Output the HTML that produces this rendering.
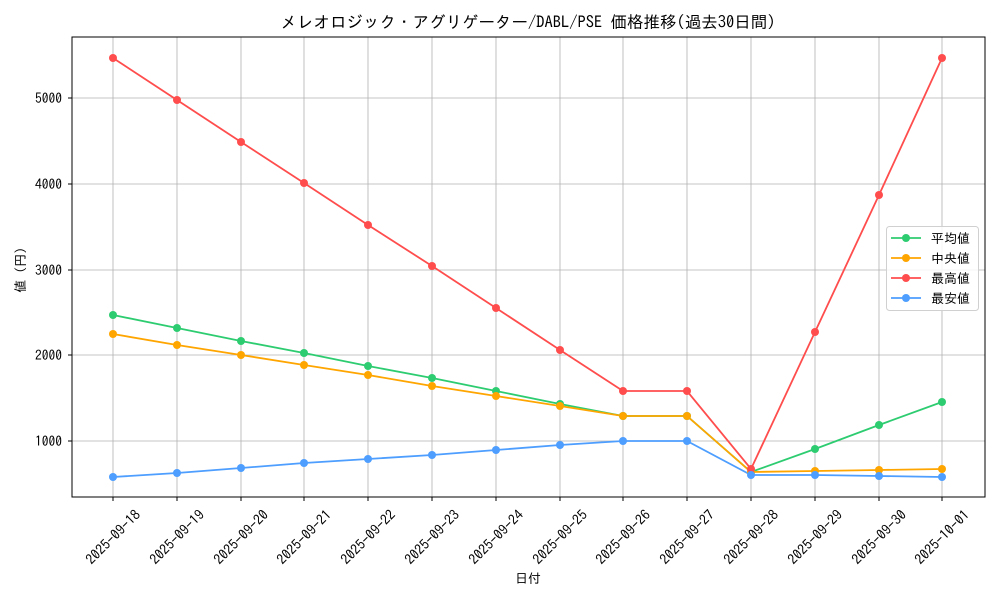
<!DOCTYPE html>
<html><head><meta charset="utf-8"><style>
body{margin:0;background:#fff;}
svg{display:block;font-family:"IPAGothic","Noto Sans CJK JP",sans-serif;}
</style></head><body>
<svg width="1000" height="600" viewBox="0 0 1000 600" xmlns="http://www.w3.org/2000/svg">
<rect width="1000" height="600" fill="#fff"/>
<g stroke="#b0b0b0" stroke-width="0.8">
<line x1="113" y1="37" x2="113" y2="497"/><line x1="177" y1="37" x2="177" y2="497"/><line x1="241" y1="37" x2="241" y2="497"/><line x1="304" y1="37" x2="304" y2="497"/><line x1="368" y1="37" x2="368" y2="497"/><line x1="432" y1="37" x2="432" y2="497"/><line x1="496" y1="37" x2="496" y2="497"/><line x1="560" y1="37" x2="560" y2="497"/><line x1="623" y1="37" x2="623" y2="497"/><line x1="687" y1="37" x2="687" y2="497"/><line x1="751" y1="37" x2="751" y2="497"/><line x1="815" y1="37" x2="815" y2="497"/><line x1="879" y1="37" x2="879" y2="497"/><line x1="942" y1="37" x2="942" y2="497"/>
<line x1="72" y1="98" x2="985" y2="98"/><line x1="72" y1="184" x2="985" y2="184"/><line x1="72" y1="270" x2="985" y2="270"/><line x1="72" y1="355" x2="985" y2="355"/><line x1="72" y1="441" x2="985" y2="441"/>
</g>
<rect x="72" y="37" width="913" height="460" fill="none" stroke="#000" stroke-width="1"/>
<g stroke="#000" stroke-width="1">
<line x1="113" y1="497" x2="113" y2="501"/><line x1="177" y1="497" x2="177" y2="501"/><line x1="241" y1="497" x2="241" y2="501"/><line x1="304" y1="497" x2="304" y2="501"/><line x1="368" y1="497" x2="368" y2="501"/><line x1="432" y1="497" x2="432" y2="501"/><line x1="496" y1="497" x2="496" y2="501"/><line x1="560" y1="497" x2="560" y2="501"/><line x1="623" y1="497" x2="623" y2="501"/><line x1="687" y1="497" x2="687" y2="501"/><line x1="751" y1="497" x2="751" y2="501"/><line x1="815" y1="497" x2="815" y2="501"/><line x1="879" y1="497" x2="879" y2="501"/><line x1="942" y1="497" x2="942" y2="501"/>
<line x1="68" y1="98" x2="72" y2="98"/><line x1="68" y1="184" x2="72" y2="184"/><line x1="68" y1="270" x2="72" y2="270"/><line x1="68" y1="355" x2="72" y2="355"/><line x1="68" y1="441" x2="72" y2="441"/>
</g>
<g font-size="13.5" text-anchor="end" fill="#000">
<text x="62" y="103">5000</text><text x="62" y="189">4000</text><text x="62" y="275">3000</text><text x="62" y="360">2000</text><text x="62" y="446">1000</text>
</g>
<g font-size="14" text-anchor="middle" dominant-baseline="central" fill="#000">
<text transform="translate(113,537) rotate(-45)">2025-09-18</text>
<text transform="translate(177,537) rotate(-45)">2025-09-19</text>
<text transform="translate(241,537) rotate(-45)">2025-09-20</text>
<text transform="translate(304,537) rotate(-45)">2025-09-21</text>
<text transform="translate(368,537) rotate(-45)">2025-09-22</text>
<text transform="translate(432,537) rotate(-45)">2025-09-23</text>
<text transform="translate(496,537) rotate(-45)">2025-09-24</text>
<text transform="translate(560,537) rotate(-45)">2025-09-25</text>
<text transform="translate(623,537) rotate(-45)">2025-09-26</text>
<text transform="translate(687,537) rotate(-45)">2025-09-27</text>
<text transform="translate(751,537) rotate(-45)">2025-09-28</text>
<text transform="translate(815,537) rotate(-45)">2025-09-29</text>
<text transform="translate(879,537) rotate(-45)">2025-09-30</text>
<text transform="translate(942,537) rotate(-45)">2025-10-01</text>
</g>
<text x="528" y="583" font-size="13" text-anchor="middle">日付</text>
<text transform="translate(25,270) rotate(-90)" font-size="13" text-anchor="middle">値 (円)</text>
<text x="528" y="28" font-size="16.5" text-anchor="middle">メレオロジック・アグリゲーター/DABL/PSE 価格推移(過去30日間)</text>

<g fill="none" stroke-width="1.8">
<polyline stroke="#2ecc71" points="113,315 177,328 241,341 304,353 368,366 432,378 496,391 560,404 623,416 687,416 751,472 815,449 879,425 942,402"/>
<polyline stroke="#ffa500" points="113,334 177,345 241,355 304,365 368,375 432,386 496,396 560,406 623,416 687,416 751,472 815,471 879,470 942,469"/>
<polyline stroke="#ff4d4d" points="113,58 177,100 241,142 304,183 368,225 432,266 496,308 560,350 623,391 687,391 751,469 815,332 879,195 942,58"/>
<polyline stroke="#4d9eff" points="113,477 177,473 241,468 304,463 368,459 432,455 496,450 560,445 623,441 687,441 751,475 815,475 879,476 942,477"/>
</g>
<g fill="#2ecc71"><circle cx="113" cy="315" r="4"/><circle cx="177" cy="328" r="4"/><circle cx="241" cy="341" r="4"/><circle cx="304" cy="353" r="4"/><circle cx="368" cy="366" r="4"/><circle cx="432" cy="378" r="4"/><circle cx="496" cy="391" r="4"/><circle cx="560" cy="404" r="4"/><circle cx="623" cy="416" r="4"/><circle cx="687" cy="416" r="4"/><circle cx="751" cy="472" r="4"/><circle cx="815" cy="449" r="4"/><circle cx="879" cy="425" r="4"/><circle cx="942" cy="402" r="4"/></g>
<g fill="#ffa500"><circle cx="113" cy="334" r="4"/><circle cx="177" cy="345" r="4"/><circle cx="241" cy="355" r="4"/><circle cx="304" cy="365" r="4"/><circle cx="368" cy="375" r="4"/><circle cx="432" cy="386" r="4"/><circle cx="496" cy="396" r="4"/><circle cx="560" cy="406" r="4"/><circle cx="623" cy="416" r="4"/><circle cx="687" cy="416" r="4"/><circle cx="751" cy="472" r="4"/><circle cx="815" cy="471" r="4"/><circle cx="879" cy="470" r="4"/><circle cx="942" cy="469" r="4"/></g>
<g fill="#ff4d4d"><circle cx="113" cy="58" r="4"/><circle cx="177" cy="100" r="4"/><circle cx="241" cy="142" r="4"/><circle cx="304" cy="183" r="4"/><circle cx="368" cy="225" r="4"/><circle cx="432" cy="266" r="4"/><circle cx="496" cy="308" r="4"/><circle cx="560" cy="350" r="4"/><circle cx="623" cy="391" r="4"/><circle cx="687" cy="391" r="4"/><circle cx="751" cy="469" r="4"/><circle cx="815" cy="332" r="4"/><circle cx="879" cy="195" r="4"/><circle cx="942" cy="58" r="4"/></g>
<g fill="#4d9eff"><circle cx="113" cy="477" r="4"/><circle cx="177" cy="473" r="4"/><circle cx="241" cy="468" r="4"/><circle cx="304" cy="463" r="4"/><circle cx="368" cy="459" r="4"/><circle cx="432" cy="455" r="4"/><circle cx="496" cy="450" r="4"/><circle cx="560" cy="445" r="4"/><circle cx="623" cy="441" r="4"/><circle cx="687" cy="441" r="4"/><circle cx="751" cy="475" r="4"/><circle cx="815" cy="475" r="4"/><circle cx="879" cy="476" r="4"/><circle cx="942" cy="477" r="4"/></g>

<rect x="886.5" y="226.5" width="92" height="84" rx="3" fill="#fff" fill-opacity="0.85" stroke="#d0d0d0"/>
<g stroke-width="1.8">
<line x1="891" y1="238" x2="921" y2="238" stroke="#2ecc71"/><circle cx="906" cy="238" r="4" fill="#2ecc71"/>
<line x1="891" y1="258" x2="921" y2="258" stroke="#ffa500"/><circle cx="906" cy="258" r="4" fill="#ffa500"/>
<line x1="891" y1="278" x2="921" y2="278" stroke="#ff4d4d"/><circle cx="906" cy="278" r="4" fill="#ff4d4d"/>
<line x1="891" y1="298" x2="921" y2="298" stroke="#4d9eff"/><circle cx="906" cy="298" r="4" fill="#4d9eff"/>
</g>
<g font-size="13">
<text x="931" y="243">平均値</text><text x="931" y="263">中央値</text><text x="931" y="283">最高値</text><text x="931" y="303">最安値</text>
</g>
</svg>
</body></html>
